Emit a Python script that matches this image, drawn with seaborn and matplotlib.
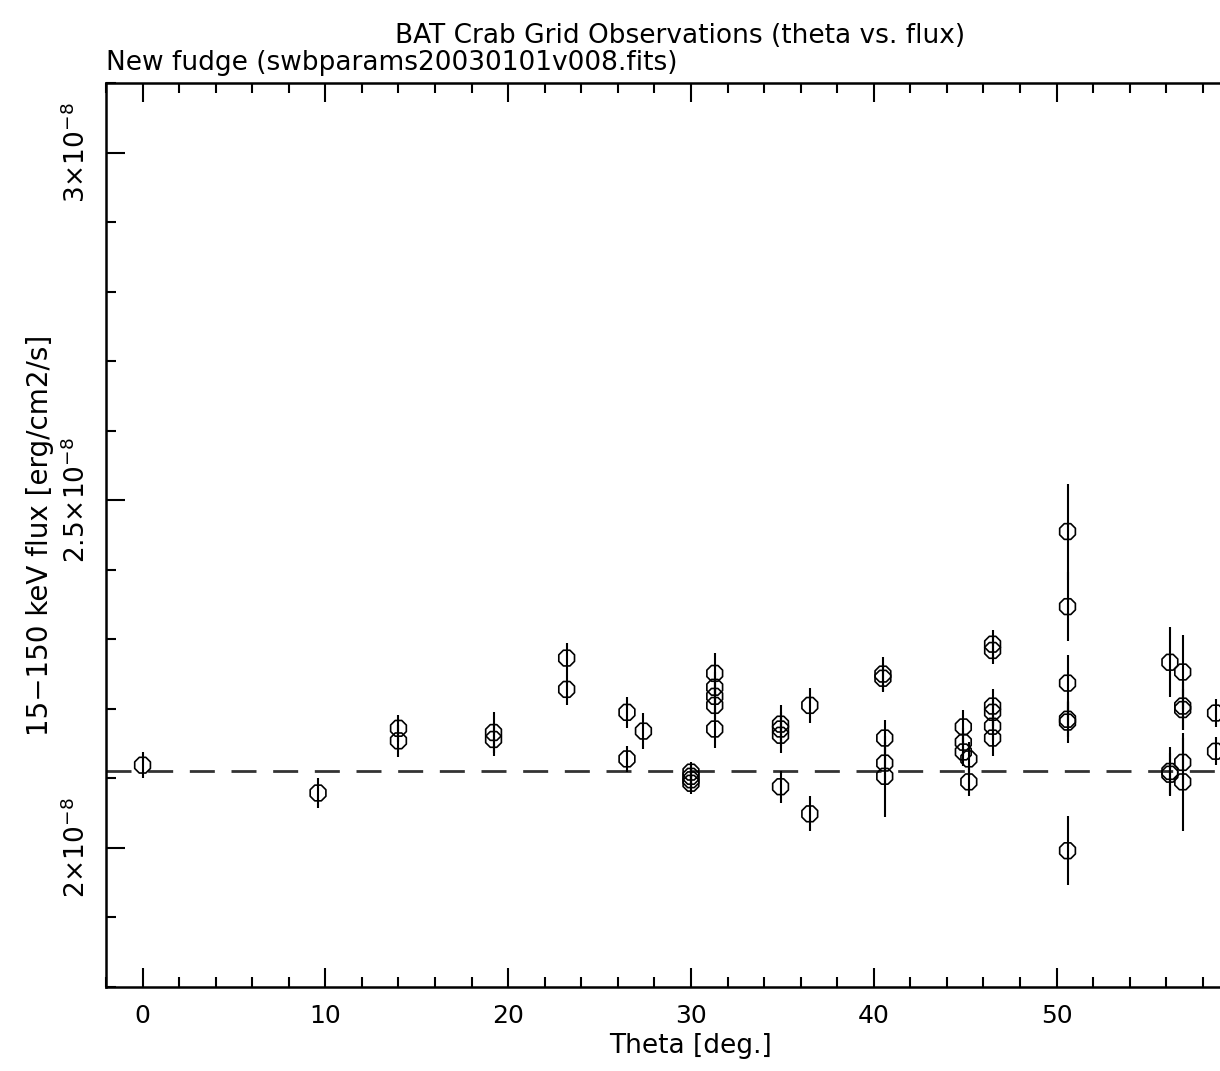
import numpy as np
import pandas as pd
import seaborn as sns
import matplotlib
matplotlib.use('Agg')
import matplotlib.pyplot as plt
from matplotlib.ticker import MultipleLocator, FixedLocator, FixedFormatter

# Observaciones (theta en grados, flujo en unidades de 1e-8 erg/cm2/s)
theta = [0.0, 9.6, 14.0, 14.0, 19.2, 19.2, 23.2, 23.2, 26.5, 26.5, 27.4,
         30.0, 30.0, 30.0, 30.0,
         31.3, 31.3, 31.3, 31.3, 31.3,
         34.9, 34.9, 34.9, 34.9,
         36.5, 36.5,
         40.5, 40.5, 40.6, 40.6, 40.6,
         44.9, 44.9, 44.9, 45.2, 45.2,
         46.5, 46.5, 46.5, 46.5, 46.5, 46.5,
         50.6, 50.6, 50.6, 50.6, 50.6, 50.6,
         56.2, 56.2, 56.2,
         56.9, 56.9, 56.9, 56.9, 56.9,
         58.7, 58.7]
flux = [2.119, 2.079, 2.172, 2.154, 2.166, 2.156, 2.273, 2.228, 2.195, 2.128, 2.168,
        2.109, 2.103, 2.098, 2.093,
        2.251, 2.231, 2.218, 2.205, 2.171,
        2.178, 2.171, 2.162, 2.088,
        2.205, 2.049,
        2.250, 2.244, 2.158, 2.122, 2.103,
        2.174, 2.152, 2.138, 2.128, 2.095,
        2.293, 2.284, 2.204, 2.195, 2.175, 2.158,
        2.455, 2.347, 2.237, 2.185, 2.181, 1.996,
        2.267, 2.110, 2.106,
        2.253, 2.204, 2.199, 2.123, 2.095,
        2.194, 2.139]
flux_err = [0.019, 0.021, 0.019, 0.023, 0.030, 0.024, 0.022, 0.023, 0.022, 0.019, 0.026,
            0.015, 0.015, 0.015, 0.015,
            0.030, 0.022, 0.022, 0.022, 0.027,
            0.027, 0.025, 0.025, 0.023,
            0.025, 0.025,
            0.025, 0.020, 0.026, 0.030, 0.058,
            0.025, 0.020, 0.020, 0.024, 0.020,
            0.020, 0.020, 0.025, 0.020, 0.020, 0.026,
            0.069, 0.050, 0.040, 0.025, 0.030, 0.050,
            0.050, 0.035, 0.030,
            0.053, 0.035, 0.030, 0.035, 0.070,
            0.020, 0.020]
flux_ref = 2.11  # linea de referencia
x_ticks = [0, 10, 20, 30, 40, 50]
y_ticks = [2.0, 2.5, 3.0]
y_tick_labels = [r'$2{\times}10^{-8}$', r'$2.5{\times}10^{-8}$', r'$3{\times}10^{-8}$']

df = pd.DataFrame({'theta': theta,
                   'flux': np.array(flux) * 1e-8,
                   'err': np.array(flux_err) * 1e-8})

sns.set_style('ticks')
plt.rcParams['font.family'] = ['Liberation Sans Narrow', 'DejaVu Sans']
plt.rcParams['text.color'] = 'black'
plt.rcParams['axes.labelcolor'] = 'black'
plt.rcParams['xtick.color'] = 'black'
plt.rcParams['ytick.color'] = 'black'

W, H = 1220, 1071
fig = plt.figure(figsize=(W / 100, H / 100), dpi=100)
px_per_deg = 18.28
x0, x1 = -2, 62
ax = fig.add_axes([106 / W, 1 - 987 / H, (x1 - x0) * px_per_deg / W, (987 - 83) / H])

ax.errorbar(df['theta'], df['flux'], yerr=df['err'], fmt='none',
            ecolor='black', elinewidth=1.5, capsize=0, zorder=2)
sns.scatterplot(data=df, x='theta', y='flux', ax=ax, marker='8', s=150,
                facecolors='none', edgecolor='black', linewidth=1.2, zorder=3)
ax.axhline(flux_ref * 1e-8, color='#333333', lw=2, ls=(0, (9, 6)), zorder=1)

ax.set_xlim(x0, x1)
ax.set_ylim(1.8e-8, 3.1e-8)

ax.xaxis.set_major_locator(FixedLocator(x_ticks))
ax.xaxis.set_minor_locator(MultipleLocator(2))
ax.yaxis.set_major_locator(FixedLocator([v * 1e-8 for v in y_ticks]))
ax.yaxis.set_major_formatter(FixedFormatter(y_tick_labels))
ax.yaxis.set_minor_locator(MultipleLocator(0.1e-8))

ax.tick_params(which='both', direction='in', top=True, right=False, width=1.5, colors='black')
ax.tick_params(which='major', length=14)
ax.tick_params(which='minor', length=7)
ax.tick_params(axis='x', labelsize=18, pad=12)
ax.tick_params(axis='y', labelsize=19, pad=11)
for lab in ax.get_yticklabels():
    lab.set_rotation(90)
    lab.set_va('center')

for side in ['left', 'bottom', 'top']:
    ax.spines[side].set_linewidth(1.8)
    ax.spines[side].set_color('black')
ax.spines['right'].set_visible(False)

ax.set_xlabel('Theta [deg.]', fontsize=19, labelpad=4)
ax.set_ylabel('15−150 keV flux [erg/cm2/s]', fontsize=20, labelpad=6)

fig.text(680 / W, 1 - 36 / H, 'BAT Crab Grid Observations (theta vs. flux)',
         fontsize=19, ha='center', va='center')
fig.text(106 / W, 1 - 63 / H, 'New fudge (swbparams20030101v008.fits)',
         fontsize=19, ha='left', va='center')

fig.savefig('out.png', dpi=100, facecolor='white')
